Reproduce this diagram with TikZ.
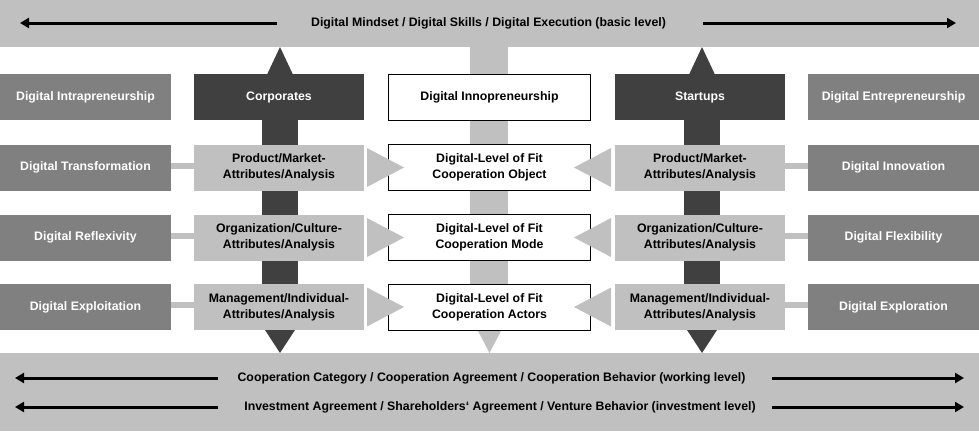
\documentclass[tikz,border=0pt]{standalone}
\usepackage{fontspec}
\setmainfont{Liberation Sans}
\usetikzlibrary{arrows.meta,calc}
\definecolor{band}{HTML}{C0C0C0}
\definecolor{midgrey}{HTML}{808080}
\definecolor{darkgrey}{HTML}{404040}
\begin{document}
\begin{tikzpicture}[x=1pt,y=-1pt,
  lbl/.style={font=\bfseries\fontsize{12.3}{15.7}\selectfont, align=center, inner sep=0pt, outer sep=0pt},
  cell/.style={lbl, minimum height=46pt},
  outer/.style={cell, fill=midgrey, text=white, minimum width=171pt},
  actor/.style={cell, fill=darkgrey, text=white, minimum width=170pt},
  attr/.style={cell, fill=band, text=black, minimum width=170pt},
  fitbox/.style={cell, fill=white, draw=black, line width=0.9pt, minimum width=202pt},
  bandtxt/.style={lbl, text=black},
  barrow/.style={line width=3pt, -{Triangle[length=9pt,width=10pt]}},
  link/.style={band, line width=6pt},
]
\useasboundingbox (0,0) rectangle (979,431);
% bands
\node[fill=band, minimum width=979pt, minimum height=47pt, inner sep=0pt] (topband) at (489.5,23.5) {};
\node[fill=band, minimum width=979pt, minimum height=78pt, inner sep=0pt] (botband) at (489.5,392) {};
% central grey stem
\fill[band] (470,47) rectangle (508,330);
% dark stems with arrow heads
\fill[darkgrey] (262,74) rectangle (298,330);
\fill[darkgrey] (280,47) -- (264,81) -- (296,81) -- cycle;
\fill[darkgrey] (265,330) -- (295,330) -- (280,353) -- cycle;
\fill[darkgrey] (684,74) rectangle (720,330);
\fill[darkgrey] (702,47) -- (686,81) -- (718,81) -- cycle;
\fill[darkgrey] (687,330) -- (717,330) -- (702,353) -- cycle;
% central bottom arrow head
\fill[band] (477,329) -- (502,329) -- (489.5,353) -- cycle;

% band texts
\node[bandtxt] (toptxt) at (488.5,23) {Digital Mindset / Digital Skills / Digital Execution (basic level)};
\node[bandtxt] (coop) at (491.5,378) {Cooperation Category / Cooperation Agreement / Cooperation Behavior (working level)};
\node[bandtxt] (invest) at (500,407) {Investment Agreement / Shareholders‘ Agreement / Venture Behavior (investment level)};
\coordinate (tl1) at (277,23);  \coordinate (tl2) at (20,23);
\coordinate (tr1) at (703,23);  \coordinate (tr2) at (956,23);
\coordinate (cl1) at (218,378); \coordinate (cl2) at (15,378);
\coordinate (cr1) at (772,378); \coordinate (cr2) at (964,378);
\coordinate (il1) at (218,407); \coordinate (il2) at (15,407);
\coordinate (ir1) at (772,407); \coordinate (ir2) at (964,407);
\draw[barrow] (tl1) -- (tl2);
\draw[barrow] (tr1) -- (tr2);
\draw[barrow] (cl1) -- (cl2);
\draw[barrow] (cr1) -- (cr2);
\draw[barrow] (il1) -- (il2);
\draw[barrow] (ir1) -- (ir2);

% row 1
\node[outer] (intra) at (85.5,97) {Digital Intrapreneurship};
\node[actor] (corp) at (279,97) {Corporates};
\node[fitbox] (inno) at (489.5,97) {Digital Innopreneurship};
\node[actor] (start) at (700,97) {Startups};
\node[outer] (entre) at (893.5,97) {Digital Entrepreneurship};
% row 2
\node[outer] (trans) at (85.5,167.5) {Digital Transformation};
\node[attr] (pmL) at (279,167.5) {Product/Market-\\Attributes/Analysis};
\node[fitbox] (fitO) at (489.5,167.5) {Digital-Level of Fit\\Cooperation Object};
\node[attr] (pmR) at (700,167.5) {Product/Market-\\Attributes/Analysis};
\node[outer] (innov) at (893.5,167.5) {Digital Innovation};
% row 3
\node[outer] (refl) at (85.5,237.5) {Digital Reflexivity};
\node[attr] (ocL) at (279,237.5) {Organization/Culture-\\Attributes/Analysis};
\node[fitbox] (fitM) at (489.5,237.5) {Digital-Level of Fit\\Cooperation Mode};
\node[attr] (ocR) at (700,237.5) {Organization/Culture-\\Attributes/Analysis};
\node[outer] (flex) at (893.5,237.5) {Digital Flexibility};
% row 4
\node[outer] (exploit) at (85.5,307) {Digital Exploitation};
\node[attr] (miL) at (279,307) {Management/Individual-\\Attributes/Analysis};
\node[fitbox] (fitA) at (489.5,307) {Digital-Level of Fit\\Cooperation Actors};
\node[attr] (miR) at (700,307) {Management/Individual-\\Attributes/Analysis};
\node[outer] (explor) at (893.5,307) {Digital Exploration};

% links
\draw[link] ([yshift=2pt]trans.east) -- ([yshift=2pt]pmL.west);
\draw[link] ([yshift=2pt]refl.east) -- ([yshift=2pt]ocL.west);
\draw[link] ([yshift=2pt]exploit.east) -- ([yshift=2pt]miL.west);
\draw[link] ([yshift=2pt]pmR.east) -- ([yshift=2pt]innov.west);
\draw[link] ([yshift=2pt]ocR.east) -- ([yshift=2pt]flex.west);
\draw[link] ([yshift=2pt]miR.east) -- ([yshift=2pt]explor.west);

% arrow heads towards the fit boxes
\foreach \a in {pmL,ocL,miL}{
  \fill[band] ([xshift=3pt]\a.east) ++(0,-19.5) -- ++(37,19.5) -- ++(-37,19.5) -- cycle;
}
\foreach \a in {pmR,ocR,miR}{
  \fill[band] ([xshift=-4pt]\a.west) ++(0,-19.5) -- ++(-37,19.5) -- ++(37,19.5) -- cycle;
}
\end{tikzpicture}
\end{document}
